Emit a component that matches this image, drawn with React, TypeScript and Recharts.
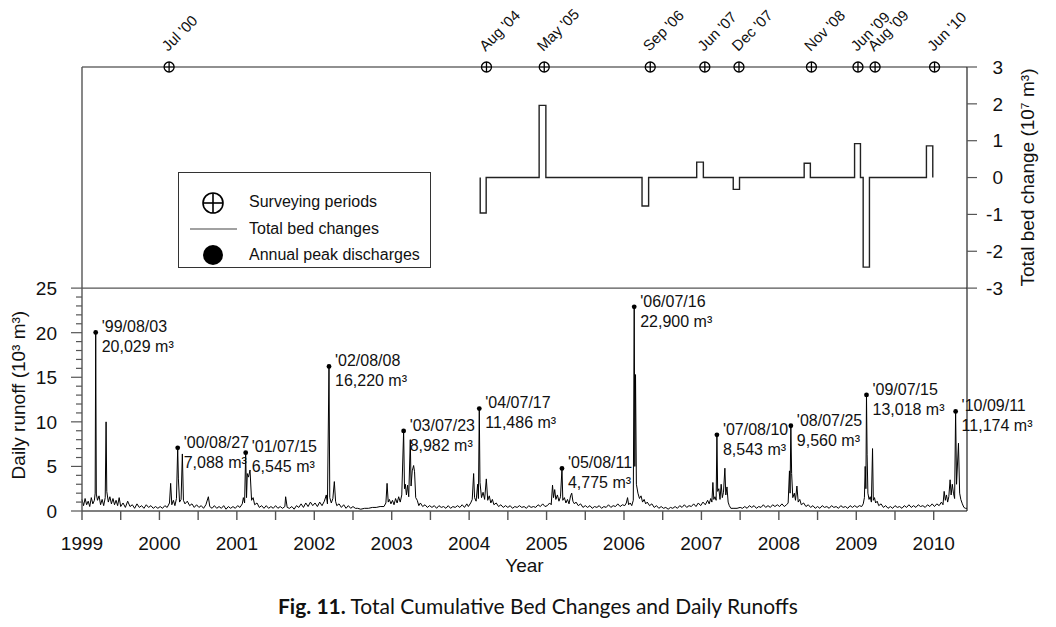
import React from "react";
import { ComposedChart, Line, Scatter, XAxis, YAxis, ReferenceLine } from "recharts";

const FONT = '"Liberation Sans", Arial, Helvetica, sans-serif';
const AXIS = "#555";
const INK = "#111";

// x values are read on the figure's own year scale
const yearTicks = [
  1999, 1999.5, 2000, 2000.5, 2001, 2001.5, 2002, 2002.5, 2003, 2003.5, 2004, 2004.5,
  2005, 2005.5, 2006, 2006.5, 2007, 2007.5, 2008, 2008.5, 2009, 2009.5, 2010,
];
const X_MAX = 2010.43;

// upper panel takes this share of the plot height
const SPLIT = 0.498;
const runoffTicks = Array.from({ length: 26 }, (_, i) => i);
const bedTicks = [-3, -2, -1, 0, 1, 2, 3];
const Q_MAX = 25 / (1 - SPLIT);
const B_MIN = 3 - 6 / SPLIT;

// surveying periods
const surveyLabels = ["Jul '00", "Aug '04", "May '05", "Sep '06", "Jun '07", "Dec '07", "Nov '08", "Jun '09", "Aug '09", "Jun '10"];
const surveyX = [2000.125, 2004.224, 2004.97, 2006.339, 2007.044, 2007.485, 2008.421, 2009.022, 2009.243, 2010.011];

// total bed change pulses (10^7 m3)
const bedFrom = [2004.143, 2004.904, 2006.233, 2006.939, 2007.411, 2008.327, 2008.978, 2009.089, 2009.906];
const bedTo = [2004.22, 2004.991, 2006.318, 2007.025, 2007.492, 2008.407, 2009.054, 2009.17, 2009.988];
const bedChange = [-0.96, 1.96, -0.77, 0.42, -0.32, 0.39, 0.92, -2.43, 0.86];

// annual peak discharges
const peakX = [1999.177, 2000.236, 2001.114, 2002.19, 2003.154, 2004.131, 2005.199, 2006.132, 2007.2, 2008.155, 2009.132, 2010.283];
const peakQ = [20.029, 7.088, 6.545, 16.22, 8.982, 11.486, 4.775, 22.9, 8.543, 9.56, 13.018, 11.174];
const peakDates = ["'99/08/03", "'00/08/27", "'01/07/15", "'02/08/08", "'03/07/23", "'04/07/17", "'05/08/11", "'06/07/16", "'07/08/10", "'08/07/25", "'09/07/15", "'10/09/11"];
const peakText = ["20,029 m³", "7,088 m³", "6,545 m³", "16,220 m³", "8,982 m³", "11,486 m³", "4,775 m³", "22,900 m³", "8,543 m³", "9,560 m³", "13,018 m³", "11,174 m³"];

// daily runoff (10^3 m3)
const runoff: [number, number][] = [
  [1999.0, 1.3], [1999.02, 0.6], [1999.04, 1.4], [1999.06, 0.7], [1999.08, 1.1], [1999.1, 0.5], [1999.12, 1.5], [1999.14, 0.8], [1999.16, 1.2], [1999.17, 2.0],
  [1999.177, 20.029], [1999.185, 1.9], [1999.2, 1.2], [1999.22, 1.7], [1999.24, 0.7], [1999.26, 1.3], [1999.28, 0.6], [1999.3, 1.5], [1999.311, 10.0], [1999.32, 2.2],
  [1999.34, 1.0], [1999.36, 1.6], [1999.38, 0.8], [1999.4, 1.4], [1999.42, 0.7], [1999.44, 1.2], [1999.46, 0.6], [1999.48, 1.5], [1999.5, 0.5], [1999.53, 0.9],
  [1999.56, 0.4], [1999.59, 1.1], [1999.62, 0.5], [1999.65, 0.7], [1999.68, 0.3], [1999.71, 0.8], [1999.74, 0.4], [1999.77, 0.6], [1999.8, 0.3], [1999.83, 0.7],
  [1999.86, 0.4], [1999.89, 0.6], [1999.92, 0.3], [1999.95, 0.5], [1999.98, 0.3],
  [2000.01, 0.5], [2000.04, 0.3], [2000.07, 0.6], [2000.1, 0.4], [2000.13, 0.9], [2000.145, 3.1], [2000.16, 0.7], [2000.18, 1.2], [2000.2, 0.6], [2000.22, 1.4],
  [2000.236, 7.088], [2000.245, 3.6], [2000.26, 1.0], [2000.28, 1.3], [2000.296, 6.4], [2000.31, 1.2], [2000.33, 0.8], [2000.36, 1.1], [2000.39, 0.6], [2000.42, 0.8],
  [2000.45, 0.4], [2000.48, 0.7], [2000.51, 0.4], [2000.54, 0.6], [2000.57, 0.3], [2000.6, 0.7], [2000.632, 1.6], [2000.65, 0.5], [2000.68, 0.3], [2000.71, 0.6],
  [2000.74, 0.3], [2000.77, 0.5], [2000.8, 0.3], [2000.83, 0.6], [2000.86, 0.2], [2000.89, 0.5], [2000.92, 0.3], [2000.95, 0.5], [2000.98, 0.3],
  [2001.01, 0.6], [2001.04, 0.4], [2001.07, 0.8], [2001.084, 1.5], [2001.1, 0.9], [2001.114, 6.545], [2001.125, 1.5], [2001.135, 4.2], [2001.15, 3.8], [2001.17, 4.6],
  [2001.19, 1.2], [2001.21, 1.5], [2001.23, 0.7], [2001.26, 0.9], [2001.29, 0.4], [2001.32, 0.6], [2001.35, 0.3], [2001.38, 0.6], [2001.41, 0.3], [2001.44, 0.5],
  [2001.47, 0.3], [2001.5, 0.6], [2001.53, 0.3], [2001.56, 0.5], [2001.59, 0.3], [2001.62, 0.5], [2001.63, 1.6], [2001.65, 0.4], [2001.68, 0.3], [2001.71, 0.5],
  [2001.74, 0.2], [2001.77, 0.6], [2001.8, 0.4], [2001.83, 0.8], [2001.86, 0.4], [2001.89, 0.9], [2001.92, 0.5], [2001.95, 1.0], [2001.98, 0.6],
  [2002.01, 0.9], [2002.04, 0.5], [2002.07, 1.0], [2002.1, 0.6], [2002.13, 1.1], [2002.155, 1.8], [2002.17, 0.8], [2002.19, 16.22], [2002.2, 1.5], [2002.22, 0.9],
  [2002.24, 1.4], [2002.259, 3.3], [2002.275, 1.1], [2002.29, 0.6], [2002.32, 0.8], [2002.35, 0.4], [2002.38, 0.7], [2002.41, 0.3], [2002.44, 0.6], [2002.47, 0.3],
  [2002.5, 0.5], [2002.53, 0.3], [2002.56, 0.3], [2002.6, 0.2], [2002.65, 0.3], [2002.7, 0.3], [2002.75, 0.4], [2002.8, 0.4], [2002.85, 0.5], [2002.9, 0.5],
  [2002.925, 0.9], [2002.94, 3.1], [2002.955, 1.0], [2002.97, 1.3], [2002.99, 0.8],
  [2003.01, 1.2], [2003.03, 0.7], [2003.05, 1.4], [2003.07, 0.9], [2003.09, 1.6], [2003.11, 1.0], [2003.13, 1.8], [2003.154, 8.982], [2003.165, 2.5], [2003.176, 3.0],
  [2003.19, 1.8], [2003.205, 2.9], [2003.22, 1.6], [2003.24, 8.0], [2003.25, 2.8], [2003.265, 4.5], [2003.283, 5.1], [2003.295, 4.4], [2003.31, 1.5], [2003.33, 1.2],
  [2003.35, 0.6], [2003.37, 0.9], [2003.4, 0.5], [2003.43, 0.7], [2003.46, 0.4], [2003.49, 0.6], [2003.52, 0.4], [2003.55, 0.6], [2003.58, 0.3], [2003.61, 0.6],
  [2003.64, 0.4], [2003.67, 0.5], [2003.7, 0.3], [2003.73, 0.6], [2003.76, 0.3], [2003.79, 0.5], [2003.82, 0.4], [2003.85, 0.6], [2003.88, 0.4], [2003.91, 0.7],
  [2003.94, 0.4], [2003.97, 0.8], [2003.99, 0.5],
  [2004.02, 0.9], [2004.04, 1.3], [2004.058, 4.2], [2004.07, 1.5], [2004.09, 1.1], [2004.11, 3.0], [2004.12, 1.4], [2004.131, 11.486], [2004.14, 3.2], [2004.16, 1.5],
  [2004.18, 2.1], [2004.2, 1.3], [2004.222, 3.6], [2004.24, 1.2], [2004.26, 1.7], [2004.28, 0.9], [2004.3, 1.3], [2004.32, 0.7], [2004.35, 0.9], [2004.38, 0.5],
  [2004.41, 0.7], [2004.44, 0.4], [2004.47, 0.6], [2004.5, 0.4], [2004.53, 0.6], [2004.56, 0.3], [2004.59, 0.5], [2004.62, 0.4], [2004.65, 0.6], [2004.68, 0.4],
  [2004.71, 0.5], [2004.74, 0.3], [2004.77, 0.6], [2004.8, 0.4], [2004.83, 0.5], [2004.86, 0.4], [2004.89, 0.7], [2004.92, 0.5], [2004.95, 0.8], [2004.98, 0.5],
  [2005.01, 0.6], [2005.04, 0.9], [2005.06, 0.7], [2005.077, 2.9], [2005.09, 1.5], [2005.105, 2.4], [2005.12, 1.3], [2005.14, 1.8], [2005.16, 1.1], [2005.18, 1.6],
  [2005.199, 4.775], [2005.21, 1.2], [2005.23, 1.5], [2005.25, 0.9], [2005.27, 1.3], [2005.29, 0.8], [2005.31, 1.7], [2005.325, 2.0], [2005.34, 1.1], [2005.36, 0.8],
  [2005.38, 1.0], [2005.41, 0.6], [2005.44, 0.8], [2005.47, 0.4], [2005.5, 0.6], [2005.53, 0.4], [2005.56, 0.6], [2005.59, 0.3], [2005.62, 0.5], [2005.65, 0.4],
  [2005.68, 0.6], [2005.71, 0.3], [2005.74, 0.5], [2005.77, 0.4], [2005.8, 0.7], [2005.83, 0.4], [2005.86, 0.6], [2005.89, 0.5], [2005.92, 0.8], [2005.95, 0.5],
  [2005.98, 0.7],
  [2006.01, 0.6], [2006.03, 0.9], [2006.046, 1.5], [2006.06, 0.7], [2006.08, 0.9], [2006.1, 0.6], [2006.12, 1.2], [2006.132, 22.9], [2006.14, 5.0], [2006.149, 15.3],
  [2006.16, 3.0], [2006.18, 2.0], [2006.2, 1.4], [2006.22, 1.7], [2006.24, 1.0], [2006.26, 1.3], [2006.28, 0.8], [2006.3, 1.0], [2006.33, 0.6], [2006.36, 0.8],
  [2006.39, 0.4], [2006.42, 0.6], [2006.45, 0.3], [2006.48, 0.5], [2006.51, 0.3], [2006.54, 0.4], [2006.57, 0.2], [2006.6, 0.4], [2006.63, 0.3], [2006.66, 0.5],
  [2006.69, 0.3], [2006.72, 0.6], [2006.75, 0.4], [2006.78, 0.7], [2006.81, 0.4], [2006.84, 0.6], [2006.87, 0.5], [2006.9, 0.8], [2006.93, 0.5], [2006.96, 0.9],
  [2006.99, 0.6],
  [2007.02, 1.0], [2007.05, 0.7], [2007.08, 1.2], [2007.1, 0.8], [2007.12, 1.4], [2007.135, 1.0], [2007.148, 3.2], [2007.16, 1.3], [2007.175, 1.6], [2007.19, 1.2],
  [2007.2, 8.543], [2007.21, 2.2], [2007.225, 2.5], [2007.24, 1.3], [2007.255, 3.0], [2007.27, 1.5], [2007.285, 2.1], [2007.303, 4.8], [2007.315, 1.8], [2007.33, 2.7],
  [2007.345, 1.0], [2007.36, 0.6], [2007.38, 0.3], [2007.42, 0.3], [2007.46, 0.3], [2007.5, 0.4], [2007.53, 0.3], [2007.56, 0.5], [2007.59, 0.3], [2007.62, 0.6],
  [2007.65, 0.4], [2007.68, 0.6], [2007.71, 0.3], [2007.74, 0.5], [2007.77, 0.4], [2007.8, 0.7], [2007.83, 0.4], [2007.86, 0.6], [2007.89, 0.4], [2007.92, 0.7],
  [2007.95, 0.5], [2007.98, 0.7],
  [2008.01, 0.5], [2008.04, 0.8], [2008.07, 0.5], [2008.1, 0.7], [2008.12, 0.9], [2008.137, 4.5], [2008.145, 2.0], [2008.155, 9.56], [2008.165, 4.2], [2008.18, 1.5],
  [2008.2, 2.0], [2008.215, 1.2], [2008.233, 2.8], [2008.25, 1.0], [2008.27, 1.3], [2008.29, 0.7], [2008.32, 0.9], [2008.35, 0.5], [2008.38, 0.7], [2008.41, 0.4],
  [2008.44, 0.6], [2008.47, 0.3], [2008.5, 0.5], [2008.53, 0.3], [2008.56, 0.6], [2008.59, 0.4], [2008.62, 0.5], [2008.65, 0.3], [2008.68, 0.6], [2008.71, 0.4],
  [2008.74, 0.5], [2008.77, 0.3], [2008.8, 0.6], [2008.83, 0.4], [2008.86, 0.5], [2008.89, 0.3], [2008.92, 0.6], [2008.95, 0.4], [2008.98, 0.6],
  [2009.01, 0.4], [2009.04, 0.6], [2009.07, 0.5], [2009.09, 0.8], [2009.105, 1.5], [2009.115, 5.0], [2009.124, 2.5], [2009.132, 13.018], [2009.14, 6.3], [2009.15, 2.0],
  [2009.165, 1.3], [2009.18, 1.6], [2009.195, 1.0], [2009.21, 7.0], [2009.22, 1.2], [2009.235, 1.5], [2009.25, 0.9], [2009.27, 1.1], [2009.29, 0.6], [2009.32, 0.8],
  [2009.35, 0.4], [2009.38, 0.6], [2009.41, 0.3], [2009.44, 0.5], [2009.47, 0.3], [2009.5, 0.6], [2009.53, 0.4], [2009.56, 0.5], [2009.59, 0.3], [2009.62, 0.6],
  [2009.65, 0.4], [2009.68, 0.7], [2009.71, 0.4], [2009.74, 0.6], [2009.77, 0.4], [2009.8, 0.7], [2009.83, 0.5], [2009.86, 0.6], [2009.89, 0.4], [2009.92, 0.7],
  [2009.95, 0.5], [2009.98, 0.8],
  [2010.01, 0.5], [2010.04, 0.8], [2010.07, 0.6], [2010.1, 1.0], [2010.12, 0.7], [2010.135, 2.2], [2010.15, 1.2], [2010.165, 1.8], [2010.18, 1.0], [2010.195, 1.6],
  [2010.212, 3.5], [2010.225, 1.8], [2010.24, 3.0], [2010.255, 2.0], [2010.27, 1.4], [2010.283, 11.174], [2010.295, 3.0], [2010.32, 7.6], [2010.335, 2.0], [2010.35, 1.3],
  [2010.37, 0.8], [2010.39, 0.4], [2010.41, 0.3], [2010.43, 0.3],
];

const runoffData = runoff.map(([x, q]) => ({ x, q }));
const peakData = peakX.map((x, i) => ({ x, q: peakQ[i], date: peakDates[i], amount: peakText[i] }));
const surveyData = surveyX.map((x, i) => ({ x, b: 3, label: surveyLabels[i] }));
const bedData = bedFrom.flatMap((from, i) => [
  { x: from, b: 0 },
  { x: from, b: bedChange[i] },
  { x: bedTo[i], b: bedChange[i] },
  { x: bedTo[i], b: 0 },
]);

function RunoffTick(props: any) {
  const { x, y, payload } = props;
  const major = payload.value % 5 === 0;
  const len = major ? 11 : 6;
  return (
    <g>
      <line x1={x - len} x2={x} y1={y} y2={y} stroke={AXIS} strokeWidth={1.2} />
      {major && (
        <text x={x - 25} y={y} dy="0.36em" textAnchor="end" fontSize={19} fill={INK} fontFamily={FONT}>
          {payload.value}
        </text>
      )}
    </g>
  );
}

function RunoffTitle(props: any) {
  const { viewBox } = props;
  const cx = viewBox.x - 2;
  const cy = viewBox.y + viewBox.height * (1 - 13 / Q_MAX);
  return (
    <text x={cx} y={cy} transform={`rotate(-90 ${cx} ${cy})`} textAnchor="middle" dy="0.36em" fontSize={19} fill={INK} fontFamily={FONT}>
      Daily runoff (10³ m³)
    </text>
  );
}

function BedTitle(props: any) {
  const { viewBox } = props;
  const cx = viewBox.x + viewBox.width;
  const cy = viewBox.y + (viewBox.height * 3) / (3 - B_MIN);
  return (
    <text x={cx} y={cy} transform={`rotate(-90 ${cx} ${cy})`} textAnchor="middle" dy="0.36em" fontSize={19} fill={INK} fontFamily={FONT}>
      Total bed change (10⁷ m³)
    </text>
  );
}

function SurveyMark(props: any) {
  const { cx, cy, payload } = props;
  return (
    <g>
      <circle cx={cx} cy={cy} r={5} fill="#fff" stroke="#000" strokeWidth={1.3} />
      <line x1={cx - 5} x2={cx + 5} y1={cy} y2={cy} stroke="#000" strokeWidth={1.3} />
      <line x1={cx} x2={cx} y1={cy - 5} y2={cy + 5} stroke="#000" strokeWidth={1.3} />
      <text transform={`translate(${cx - 1},${cy - 15}) rotate(-45)`} fontSize={15} fill={INK} fontFamily={FONT}>
        {payload.label}
      </text>
    </g>
  );
}

function PeakMark(props: any) {
  const { cx, cy, payload } = props;
  return (
    <g fontFamily={FONT} fontSize={16} fill={INK}>
      <circle cx={cx} cy={cy} r={2.4} fill="#000" />
      <text x={cx + 6} y={cy - 6} dy="0.36em">{payload.date}</text>
      <text x={cx + 6} y={cy + 14} dy="0.36em">{payload.amount}</text>
    </g>
  );
}

function LegendBox() {
  const row = { position: "absolute" as const, left: 70, fontSize: 16, lineHeight: "20px" };
  return (
    <div
      style={{
        position: "absolute",
        left: 178,
        top: 172,
        width: 253,
        height: 96,
        boxSizing: "border-box",
        border: "1px solid #333",
        background: "#fff",
        fontFamily: FONT,
        color: INK,
      }}
    >
      <svg width={60} height={96} style={{ position: "absolute", left: 0, top: 0 }}>
        <circle cx={34} cy={30} r={10} fill="#fff" stroke="#000" strokeWidth={1.6} />
        <line x1={24} x2={44} y1={30} y2={30} stroke="#000" strokeWidth={1.6} />
        <line x1={34} x2={34} y1={20} y2={40} stroke="#000" strokeWidth={1.6} />
        <line x1={11} x2={58} y1={56} y2={56} stroke="#444" strokeWidth={1.2} />
        <circle cx={34} cy={82} r={10} fill="#000" />
      </svg>
      <div style={{ ...row, top: 19 }}>Surveying periods</div>
      <div style={{ ...row, top: 46 }}>Total bed changes</div>
      <div style={{ ...row, top: 72 }}>Annual peak discharges</div>
    </div>
  );
}

export default function App() {
  return (
    <div style={{ position: "absolute", left: 0, top: 0, width: 1056, height: 627, background: "#fff" }}>
      <ComposedChart width={1056} height={627} margin={{ top: 67, right: 29, bottom: 76, left: 20 }}>
        <XAxis
          dataKey="x"
          type="number"
          domain={[1999, X_MAX]}
          ticks={yearTicks}
          interval={0}
          tickFormatter={(v: number) => (Number.isInteger(v) ? String(v) : "")}
          height={40}
          tickSize={9}
          tickMargin={17}
          stroke={AXIS}
          axisLine={{ stroke: AXIS, strokeWidth: 1.6 }}
          tickLine={{ stroke: AXIS, strokeWidth: 1.4 }}
          tick={{ fontSize: 19, fill: INK, fontFamily: FONT }}
          label={{ value: "Year", position: "bottom", offset: 8, fontSize: 19, fill: INK, fontFamily: FONT }}
        />
        <YAxis
          yAxisId="q"
          orientation="left"
          type="number"
          width={62}
          domain={[0, Q_MAX]}
          ticks={runoffTicks}
          interval={0}
          tickSize={0}
          tickMargin={0}
          tickLine={false}
          axisLine={{ stroke: AXIS, strokeWidth: 1.4 }}
          tick={<RunoffTick />}
          label={<RunoffTitle />}
        />
        <YAxis
          yAxisId="b"
          orientation="right"
          type="number"
          width={60}
          domain={[B_MIN, 3]}
          ticks={bedTicks}
          interval={0}
          tickSize={10}
          tickMargin={26}
          axisLine={{ stroke: "#222", strokeWidth: 1.2 }}
          tickLine={{ stroke: AXIS, strokeWidth: 1.2 }}
          tick={{ fontSize: 19, fill: INK, fontFamily: FONT, textAnchor: "end" }}
          label={<BedTitle />}
        />
        <ReferenceLine yAxisId="b" y={3} stroke="#222" strokeWidth={1.2} />
        <ReferenceLine yAxisId="b" y={-3} stroke={AXIS} strokeWidth={1.4} />
        <Line
          data={bedData}
          yAxisId="b"
          dataKey="b"
          type="linear"
          stroke="#222"
          strokeWidth={1.4}
          dot={false}
          activeDot={false}
          isAnimationActive={false}
        />
        <Line
          data={runoffData}
          yAxisId="q"
          dataKey="q"
          type="linear"
          stroke="#000"
          strokeWidth={1}
          dot={false}
          activeDot={false}
          isAnimationActive={false}
        />
        <Scatter data={peakData} yAxisId="q" dataKey="q" shape={<PeakMark />} isAnimationActive={false} />
        <Scatter data={surveyData} yAxisId="b" dataKey="b" shape={<SurveyMark />} isAnimationActive={false} />
      </ComposedChart>
      <LegendBox />
      <div
        style={{
          position: "absolute",
          left: 278,
          top: 593,
          fontFamily: "Lato, sans-serif",
          fontSize: 21,
          color: INK,
          whiteSpace: "nowrap",
        }}
      >
        <b>Fig. 11.</b> Total Cumulative Bed Changes and Daily Runoffs
      </div>
    </div>
  );
}
